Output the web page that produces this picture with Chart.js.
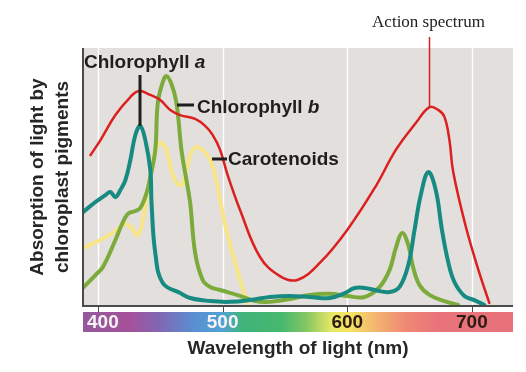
<!DOCTYPE html>
<html>
<head>
<meta charset="utf-8">
<script src="https://cdn.jsdelivr.net/npm/chart.js@4/dist/chart.umd.min.js"></script>
<style>
    html, body { margin: 0; padding: 0; background: #fff; }
    #spectrumChart { display: block; }
</style>
</head>
<body>
<canvas id="spectrumChart" width="526" height="372"></canvas>
<script>
// Values: wavelength (nm) and relative absorption (0-100)
const actionNm = [394, 402, 414, 426, 433, 442, 450, 458, 466, 478, 486, 492, 498, 504, 514, 530, 546, 560, 578, 600, 623, 639, 655, 666, 673, 678, 682, 685, 695, 706, 714];
const actionAbs = [58.5, 64.3, 74.0, 81.0, 83.3, 81.8, 79.8, 76.0, 74.0, 72.5, 69.8, 66.3, 60.5, 50.8, 37.2, 19.0, 11.6, 10.1, 16.7, 29.5, 46.5, 60.5, 70.9, 77.1, 76.0, 73.3, 64.3, 52.0, 31.0, 12.8, 1.2];

const chlANm = [388, 398, 406, 410, 414, 418, 422, 426, 430, 434, 438, 442, 443, 446, 452, 466, 474, 490, 506, 522, 538, 554, 570, 586, 598, 606, 614, 622, 634, 642, 649, 654, 659, 665, 671, 676, 681, 686, 694, 702, 710];
const chlAAbs = [36.4, 40.3, 43.0, 44.2, 42.2, 45.0, 48.8, 56.6, 66.3, 69.8, 64.3, 52.7, 39.9, 20.5, 8.9, 5.0, 3.1, 1.9, 1.6, 2.3, 3.5, 3.9, 3.5, 3.1, 5.0, 7.0, 7.0, 6.2, 5.4, 7.4, 15.9, 29.5, 43.0, 51.9, 45.0, 29.5, 17.1, 9.3, 3.9, 2.3, 0.4];

const chlBNm = [388, 398, 404, 414, 419, 424, 430, 434, 439, 442, 446, 448, 452, 455, 459, 463, 467, 471, 474, 478, 484, 490, 498, 514, 526, 538, 554, 570, 586, 600, 614, 626, 634, 639, 644, 649, 653, 658, 666, 678, 689];
const chlBAbs = [7.0, 12.0, 15.1, 25.6, 31.4, 35.7, 36.8, 38.0, 43.8, 50.0, 60.5, 78.7, 86.8, 89.1, 86.0, 78.7, 60.5, 48.8, 39.9, 20.5, 10.1, 7.4, 6.2, 3.9, 1.9, 1.6, 2.7, 4.3, 4.7, 3.9, 3.5, 7.4, 14.0, 22.5, 28.3, 23.6, 14.7, 8.1, 4.3, 1.9, 0.4];

const caroNm = [388, 402, 414, 422, 427, 432, 436, 440, 444, 448, 451, 455, 459, 463, 467, 471, 475, 479, 484, 490, 494, 498, 503, 508, 514, 520];
const caroAbs = [22.5, 25.6, 29.1, 31.8, 30.2, 27.5, 33.3, 45.0, 56.6, 62.4, 63.2, 60.5, 52.7, 47.7, 46.9, 52.7, 59.7, 61.6, 60.5, 56.6, 50.8, 41.1, 29.5, 20.5, 10.1, 0.8];

const tickValues = [400, 500, 600, 700];
const tickLabels = ['400', '500', '600', '700'];

// Colours of the visible-light strip under the x axis
const spectrumStops = [
    [388, '#925a9c'], [425, '#a5519a'], [450, '#8068b4'], [478, '#5890d2'],
    [500, '#52a2d4'], [516, '#3fb47a'], [548, '#47b86e'], [568, '#88c862'],
    [588, '#e8e866'], [602, '#f4e462'], [622, '#f4b670'], [646, '#ef8a74'],
    [672, '#e8737a'], [733, '#e8727a']
];

function toPoints(xs, ys) {
    return xs.map(function (x, i) { return { x: x, y: ys[i] }; });
}

const FONT = '"Liberation Sans", Arial, Helvetica, sans-serif';

const decorPlugin = {
    id: 'decor',
    beforeDatasetsDraw: function (chart) {
        const ctx = chart.ctx;
        const area = chart.chartArea;
        const xs = chart.scales.x;

        ctx.save();
        ctx.fillStyle = '#e2dfdd';
        ctx.fillRect(area.left, area.top, area.right - area.left, area.bottom - area.top);

        // white vertical grid lines
        ctx.strokeStyle = '#ffffff';
        ctx.lineWidth = 1.5;
        tickValues.forEach(function (v) {
            const px = Math.round(xs.getPixelForValue(v)) + 0.5;
            ctx.beginPath();
            ctx.moveTo(px, area.top);
            ctx.lineTo(px, area.bottom);
            ctx.stroke();
        });
        ctx.restore();
    },
    afterDraw: function (chart) {
        const ctx = chart.ctx;
        const area = chart.chartArea;
        const xs = chart.scales.x;
        const ys = chart.scales.y;

        ctx.save();

        // axis lines and tick marks
        ctx.strokeStyle = '#4a4a4a';
        ctx.lineWidth = 2;
        ctx.beginPath();
        ctx.moveTo(area.left, area.top);
        ctx.lineTo(area.left, area.bottom);
        ctx.lineTo(area.right, area.bottom);
        ctx.stroke();
        ctx.lineWidth = 1;
        tickValues.forEach(function (v) {
            const px = Math.round(xs.getPixelForValue(v)) + 0.5;
            ctx.beginPath();
            ctx.moveTo(px, area.bottom);
            ctx.lineTo(px, area.bottom + 6);
            ctx.stroke();
        });

        // spectrum strip
        const barTop = area.bottom + 6;
        const barH = 20;
        const grad = ctx.createLinearGradient(area.left, 0, area.right, 0);
        const w = area.right - area.left;
        spectrumStops.forEach(function (s) {
            const f = (xs.getPixelForValue(s[0]) - area.left) / w;
            grad.addColorStop(Math.min(1, Math.max(0, f)), s[1]);
        });
        ctx.fillStyle = grad;
        ctx.fillRect(area.left, barTop, w, barH);

        // tick labels inside the strip
        ctx.font = 'bold 19px ' + FONT;
        ctx.textAlign = 'center';
        ctx.textBaseline = 'middle';
        tickValues.forEach(function (v, i) {
            const tw = ctx.measureText(tickLabels[i]).width;
            const px = Math.max(xs.getPixelForValue(v), area.left + tw / 2 + 4);
            ctx.fillStyle = v < 550 ? '#f6f2f6' : '#2e1a14';
            ctx.fillText(tickLabels[i], px, barTop + barH / 2 + 1);
        });

        // axis titles
        ctx.fillStyle = '#262626';
        ctx.font = 'bold 19px ' + FONT;
        ctx.textBaseline = 'alphabetic';
        ctx.fillText('Wavelength of light (nm)', (area.left + area.right) / 2, 354);

        ctx.save();
        ctx.translate(0, 177);
        ctx.rotate(-Math.PI / 2);
        ctx.textBaseline = 'middle';
        ctx.fillText('Absorption of light by', 0, 38);
        ctx.fillText('chloroplast pigments', 0, 63);
        ctx.restore();

        // pigment labels
        ctx.textAlign = 'left';
        ctx.textBaseline = 'alphabetic';
        ctx.fillStyle = '#1e1e1e';
        ctx.font = 'bold 19px ' + FONT;
        ctx.fillText('Chlorophyll ', 84, 68);
        let tw = ctx.measureText('Chlorophyll ').width;
        ctx.font = 'italic bold 19px ' + FONT;
        ctx.fillText('a', 84 + tw, 68);

        ctx.font = 'bold 19px ' + FONT;
        ctx.fillText('Chlorophyll ', 197, 113);
        tw = ctx.measureText('Chlorophyll ').width;
        ctx.font = 'italic bold 19px ' + FONT;
        ctx.fillText('b', 197 + tw, 113);

        ctx.font = 'bold 19px ' + FONT;
        ctx.fillText('Carotenoids', 228, 165);

        // leader lines
        ctx.strokeStyle = '#1e1e1e';
        ctx.lineWidth = 3;
        const aPeak = chlAAbs.indexOf(Math.max.apply(null, chlAAbs));
        const ax = Math.round(xs.getPixelForValue(chlANm[aPeak]));
        ctx.beginPath();
        ctx.moveTo(ax, 75);
        ctx.lineTo(ax, ys.getPixelForValue(chlAAbs[aPeak]));
        ctx.stroke();
        ctx.beginPath();
        ctx.moveTo(177, 105);
        ctx.lineTo(194, 105);
        ctx.moveTo(212, 159);
        ctx.lineTo(227, 159);
        ctx.stroke();

        // action spectrum label
        const lastPeak = actionAbs.indexOf(77.1);
        const rx = Math.round(xs.getPixelForValue(actionNm[lastPeak])) + 0.5;
        ctx.strokeStyle = '#d8201f';
        ctx.lineWidth = 1.5;
        ctx.beginPath();
        ctx.moveTo(rx, 37);
        ctx.lineTo(rx, ys.getPixelForValue(actionAbs[lastPeak]));
        ctx.stroke();
        ctx.fillStyle = '#222';
        ctx.font = '17px "Liberation Serif", "Times New Roman", serif';
        ctx.textAlign = 'center';
        ctx.fillText('Action spectrum', rx - 1, 27);

        ctx.restore();
    }
};

function initializeChart() {
    const ctx = document.getElementById('spectrumChart').getContext('2d');
    const lineStyle = {
        pointRadius: 0,
        fill: false,
        tension: 0.4,
        borderCapStyle: 'round',
        borderJoinStyle: 'round'
    };

    new Chart(ctx, {
        type: 'line',
        data: {
            datasets: [
                Object.assign({ label: 'Action spectrum', data: toPoints(actionNm, actionAbs), borderColor: '#dc1f1f', borderWidth: 2.5, order: 0 }, lineStyle),
                Object.assign({ label: 'Chlorophyll a', data: toPoints(chlANm, chlAAbs), borderColor: '#178a82', borderWidth: 4, order: 1 }, lineStyle),
                Object.assign({ label: 'Chlorophyll b', data: toPoints(chlBNm, chlBAbs), borderColor: '#7cab3c', borderWidth: 4, order: 2 }, lineStyle),
                Object.assign({ label: 'Carotenoids', data: toPoints(caroNm, caroAbs), borderColor: '#f7e588', borderWidth: 4, order: 3 }, lineStyle)
            ]
        },
        options: {
            responsive: false,
            animation: false,
            devicePixelRatio: 1,
            layout: { padding: { left: 83, right: 13, top: 48, bottom: 66 } },
            scales: {
                x: { type: 'linear', min: 388, max: 733, display: false },
                y: { min: 0, max: 100, display: false }
            },
            plugins: {
                legend: { display: false },
                tooltip: { enabled: false }
            }
        },
        plugins: [decorPlugin]
    });
}

initializeChart();
</script>
</body>
</html>
